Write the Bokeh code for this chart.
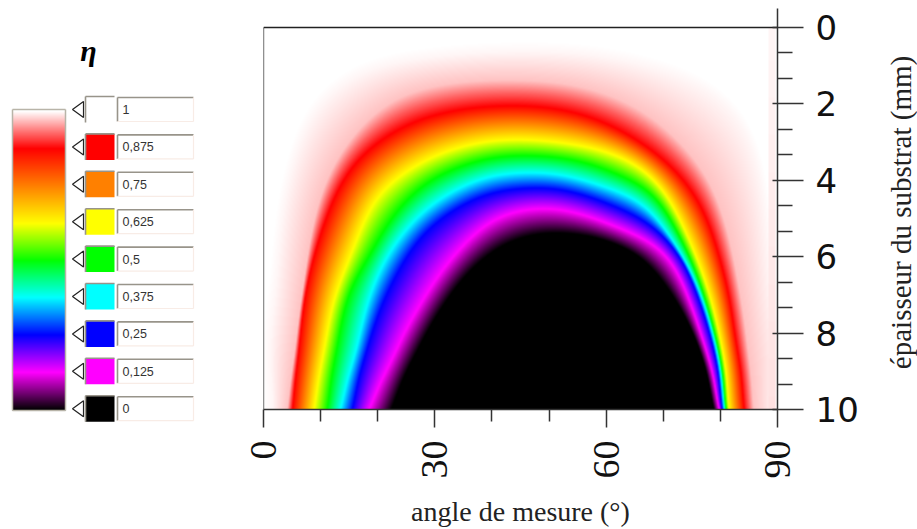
import numpy as np
from math import pi
from bokeh.plotting import figure
from bokeh.layouts import row
from bokeh.models import Range1d, FixedTicker, LinearColorMapper
from bokeh.core.properties import value
from bokeh.embed import file_html
from bokeh.resources import INLINE

# colour scale
level_values = [1, 0.875, 0.75, 0.625, 0.5, 0.375, 0.25, 0.125, 0]
level_labels = ["1", "0,875", "0,75", "0,625", "0,5", "0,375", "0,25", "0,125", "0"]
level_colors = ["#ffffff", "#ff0000", "#ff8000", "#ffff00", "#00ff00", "#00ffff", "#0000ff", "#ff00ff", "#000000"]

# iso-eta lines: (angle in degrees, thickness in mm)
eta_000 = [(22.6,10),(27.1,8.46),(31,7.41),(36.2,6.36),(41.5,5.71),(47.6,5.39),(53.8,5.39),(59,5.52),(66,5.97),(70.4,6.75),(75.3,8.06),(78.6,10)]
eta_125 = [(18.7,10),(22.8,8.66),(27.5,7.28),(32.7,6.1),(39.7,5.05),(45.5,4.76),(51.5,4.74),(57.3,4.97),(63,5.31),(67.4,5.58),(71.6,6.1),(73.5,6.8),(76.5,8.06),(79.5,10)]
eta_250 = [(15.8,10),(18.4,8.38),(22.4,6.75),(28,5.39),(34,4.71),(39.7,4.32),(45.5,4.21),(51.5,4.21),(57.3,4.45),(63,4.79),(67.4,5.1),(70.7,5.58),(73.5,6.1),(75.3,6.8),(78.1,8.06),(80,10)]
eta_375 = [(13.7,10),(16.6,8.38),(19.3,6.75),(22.2,5.84),(28,4.79),(34,4.21),(39.7,3.87),(45.5,3.8),(51.5,3.82),(57.3,4.06),(63,4.35),(67.4,4.66),(69.9,5.24),(73.9,6.1),(76,6.8),(78.6,8.06),(80.4,10)]
eta_500 = [(11.4,10),(13.1,8.38),(15.4,6.75),(18.7,6.02),(21.8,5.1),(28,4.08),(34,3.66),(39.7,3.4),(45.5,3.35),(51.5,3.4),(57.3,3.56),(63,3.93),(67.4,4.21),(69.2,4.45),(71.8,5.24),(74.9,6.1),(76.5,6.8),(79,8.06),(80.7,10)]
eta_625 = [(9.1,10),(10.9,8.38),(13.1,6.75),(15.4,6.02),(17.2,5.24),(19.8,4.35),(22.2,4.08),(28,3.48),(34,3.14),(39.7,2.96),(45.5,2.93),(51.5,3.01),(57.3,3.14),(63,3.4),(67.4,3.8),(70.7,4.35),(73.4,5.24),(76,6.1),(77.6,6.8),(79.7,8.06),(81.2,10)]
eta_875 = [(5.3,10),(6.5,8.38),(7.7,6.75),(10.5,5.24),(12.6,4.35),(16,3.48),(20.5,2.96),(22.2,2.75),(28,2.36),(34,2.15),(43.8,2.04),(51.5,2.12),(57.3,2.33),(63,2.72),(67.4,3.14),(70.4,3.48),(75.6,4.35),(78.3,5.24),(79.8,6.1),(81.2,6.8),(82.3,8.06),(83.9,10)]
eta_970 = [(4.4,10),(5.8,8.38),(7.2,6.75),(8.2,5.65),(10,4.35),(12.6,3.48),(17,2.57),(22.8,1.83),(28,1.6),(34,1.44),(43.8,1.39),(51.5,1.44),(57.3,1.6),(63,1.91),(67.8,2.3),(73.5,3.09),(78.3,4.01),(80.9,5.18),(83,6.75),(84.6,8.38),(85.6,10)]
eta_995 = [(2.1,10),(2.6,6.75),(3,5.65),(4,4.35),(5.6,3.48),(7.5,2.43),(11.7,1.73),(17.5,1.13),(22.8,0.94),(34,0.72),(45.5,0.65),(57.3,0.72),(67.8,1.05),(73.5,1.31),(79.5,1.83),(83.5,2.43),(85.8,3.14),(86.5,3.48),(87.6,5.05),(88.4,6.88),(88.8,10)]
contour_levels = [0, 0.125, 0.25, 0.375, 0.5, 0.625, 0.875, 0.97, 0.995]
contours = [eta_000, eta_125, eta_250, eta_375, eta_500, eta_625, eta_875, eta_970, eta_995]

# pale strip along the right edge of the map
edge_depth = [0, 10]
edge_eta = [0.995, 0.985]

x_ticks = [0, 30, 60, 90]
x_minor = [10, 20, 40, 50, 70, 80]
y_ticks = [0, 2, 4, 6, 8, 10]
y_minor = [0.667, 1.333, 2.667, 3.333, 4.667, 5.333, 6.667, 7.333, 8.667, 9.333]

ramp = np.linspace(0, 1, 1024)
stops_v = np.array(level_values[::-1], float)
rgb = np.array([[int(c[i:i+2], 16) for i in (1, 3, 5)] for c in level_colors[::-1]], float)
palette = ["#%02x%02x%02x" % tuple(int(round(np.interp(t, stops_v, rgb[:, k]))) for k in range(3)) for t in ramp]
mapper = LinearColorMapper(palette=palette, low=0, high=1)

# turn the read lines into a map: radial interpolation around a point under the arches
ASPECT = 5.711 / 38.2
CX, CY = 50.0, 14.0
th_grid = np.linspace(-pi / 2, pi / 2, 721)
kernel = np.ones(25) / 25
radii = []
for c in contours:
    a = np.array(c, float)
    # continue both feet below the map so that smoothing leaves them in place
    a = np.vstack([2 * a[0] - a[1], a, 2 * a[-1] - a[-2]])
    dx = a[:, 0] - CX
    dy = (CY - a[:, 1]) / ASPECT
    th = np.arctan2(dx, dy)
    r = np.hypot(dx, dy)
    o = np.argsort(th)
    rr = np.interp(th_grid, th[o], r[o])
    for _ in range(2):
        rr = np.convolve(np.pad(rr, 12, mode="edge"), kernel, mode="valid")
    radii.append(rr)
radii = np.maximum.accumulate(np.array(radii), axis=0)

ang = (np.arange(514) + 0.5) * 90 / 514
dep = (np.arange(382) + 0.5) * 10 / 382
A, D = np.meshgrid(ang, dep)
dx = A - CX
dy = (CY - D) / ASPECT
TH = np.arctan2(dx, dy)
R = np.hypot(dx, dy)
RL = np.array([np.interp(TH, th_grid, rr) for rr in radii])
eta = np.zeros_like(R)
for i in range(len(contour_levels) - 1):
    m = (R >= RL[i]) & (R < RL[i + 1])
    eta[m] = contour_levels[i] + (contour_levels[i + 1] - contour_levels[i]) * (R[m] - RL[i][m]) / np.maximum(RL[i + 1][m] - RL[i][m], 1e-6)
m = R >= RL[-1]
eta[m] = np.minimum(1.0, 0.995 + 0.005 * (R[m] - RL[-1][m]) / 2.0)
strip = (A > 88.4) & (A < 89.7)
eta[strip] = np.minimum(eta[strip], np.interp(D[strip], edge_depth, edge_eta))

H = 529
# main map
p = figure(width=650, height=H, output_backend="svg", toolbar_location=None,
           x_range=Range1d(0, 90), y_range=Range1d(10, -0.497), y_axis_location="right",
           min_border_left=33, min_border_right=103, min_border_top=8, min_border_bottom=H - 409,
           outline_line_color=None, tools="")
p.frame_align = False
p.grid.visible = False
p.image(image=[eta], x=0, y=0, dw=90, dh=10, color_mapper=mapper)
p.segment(x0=[0, 0], y0=[0, 0], x1=[0, 90], y1=[10, 0], line_color="#222222", line_width=1.3)

ax = p.xaxis[0]
ax.ticker = FixedTicker(ticks=x_ticks, minor_ticks=x_minor)
ax.major_tick_in = 0; ax.major_tick_out = 18
ax.minor_tick_in = 0; ax.minor_tick_out = 12
ax.major_label_orientation = pi / 2
ax.major_label_standoff = 13
ax.major_label_text_font = "Liberation Sans Narrow"
ax.major_label_text_font_size = "38px"
ax.major_label_text_color = "#111111"
ax.axis_label = "angle de mesure (°)"
ax.axis_label_text_font = "Liberation Serif"
ax.axis_label_text_font_style = "normal"
ax.axis_label_text_font_size = "28px"
ax.axis_label_text_color = "#222222"
ax.axis_label_standoff = 14

ay = p.yaxis[0]
ay.ticker = FixedTicker(ticks=y_ticks, minor_ticks=y_minor)
ay.major_tick_in = 5; ay.major_tick_out = 26
ay.minor_tick_in = 0; ay.minor_tick_out = 15
ay.major_label_standoff = 12
ay.major_label_text_font = "DejaVu Sans"
ay.major_label_text_font_size = "34px"
ay.major_label_text_color = "#111111"
for a_ in (ax, ay):
    a_.axis_line_color = "#333333"; a_.axis_line_width = 1.5
    a_.major_tick_line_color = "#333333"; a_.major_tick_line_width = 1.5
    a_.minor_tick_line_color = "#333333"; a_.minor_tick_line_width = 1.5

# narrow strip holding the title of the thickness axis, which reads upwards
T = figure(width=37, height=H, output_backend="svg", toolbar_location=None,
           x_range=Range1d(0, 1), y_range=Range1d(0, 1), x_axis_location=None,
           min_border_left=36, min_border_right=0, min_border_top=16, min_border_bottom=H - 408,
           outline_line_color=None, tools="")
T.frame_align = False
T.grid.visible = False
ty = T.yaxis[0]
ty.ticker = FixedTicker(ticks=[])
ty.major_tick_line_color = None
ty.minor_tick_line_color = None
ty.axis_line_color = None
ty.major_label_standoff = 0
ty.axis_label = "épaisseur du substrat (mm)"
ty.axis_label_text_font = "Liberation Serif"
ty.axis_label_text_font_style = "normal"
ty.axis_label_text_font_size = "29px"
ty.axis_label_text_color = "#222222"
ty.axis_label_standoff = 0

# scale panel, in page pixels
L = figure(width=230, height=H, output_backend="svg", toolbar_location=None,
           x_range=Range1d(0, 230), y_range=Range1d(H, 0), min_border=0,
           outline_line_color=None, tools="")
L.frame_align = False
L.axis.visible = False
L.grid.visible = False
bar = np.linspace(1, 0, 301).reshape(-1, 1)
L.image(image=[bar], x=12, y=110, dw=53, dh=300, color_mapper=mapper)
L.segment(x0=[12, 12, 65, 12], y0=[109, 109, 109, 410], x1=[65, 12, 65, 65], y1=[109, 410, 410, 410],
          line_color="#b8b4a8", line_width=1.5)
ys = [109 + (1 - v) * 8 * 37.4 for v in level_values]
L.patches(xs=[[72, 83, 83] for _ in ys], ys=[[y, y - 8, y + 8] for y in ys],
          fill_color="#ffffff", line_color="#222222", line_width=1.2)
L.quad(left=[85] * 9, right=[114] * 9, top=[y - 13 for y in ys], bottom=[y + 13 for y in ys],
       fill_color=level_colors, line_color=None)
L.quad(left=[117] * 9, right=[193] * 9, top=[y - 12 for y in ys], bottom=[y + 12 for y in ys],
       fill_color="#ffffff", line_color=None)
xg0, yg0, xg1, yg1 = [], [], [], []
for y in ys:
    xg0 += [117, 117, 85, 85]; yg0 += [y - 12, y - 12, y - 13, y - 13]
    xg1 += [193, 117, 114, 85]; yg1 += [y - 12, y + 12, y - 13, y + 13]
L.segment(xg0, yg0, xg1, yg1, line_color="#98948a", line_width=1.6)
L.segment(x0=[117 for _ in ys] + [193 for _ in ys], y0=[y + 12 for y in ys] + [y - 12 for y in ys],
          x1=[193 for _ in ys] + [193 for _ in ys], y1=[y + 12 for y in ys] + [y + 12 for y in ys],
          line_color="#f8ece6", line_width=1.2)
L.text(x=[122] * 9, y=ys, text=level_labels, text_font=value("Liberation Sans"), text_font_size="12.5px",
       text_color="#333333", text_align="left", text_baseline="middle")
L.text(x=[88], y=[50], text=["η"], text_font=value("Liberation Serif"), text_font_style="bold italic",
       text_font_size="30px", text_color="#000000", text_align="center", text_baseline="middle")

page = row(L, p, T, spacing=0)
open("out.html", "w").write(file_html(page, INLINE))
